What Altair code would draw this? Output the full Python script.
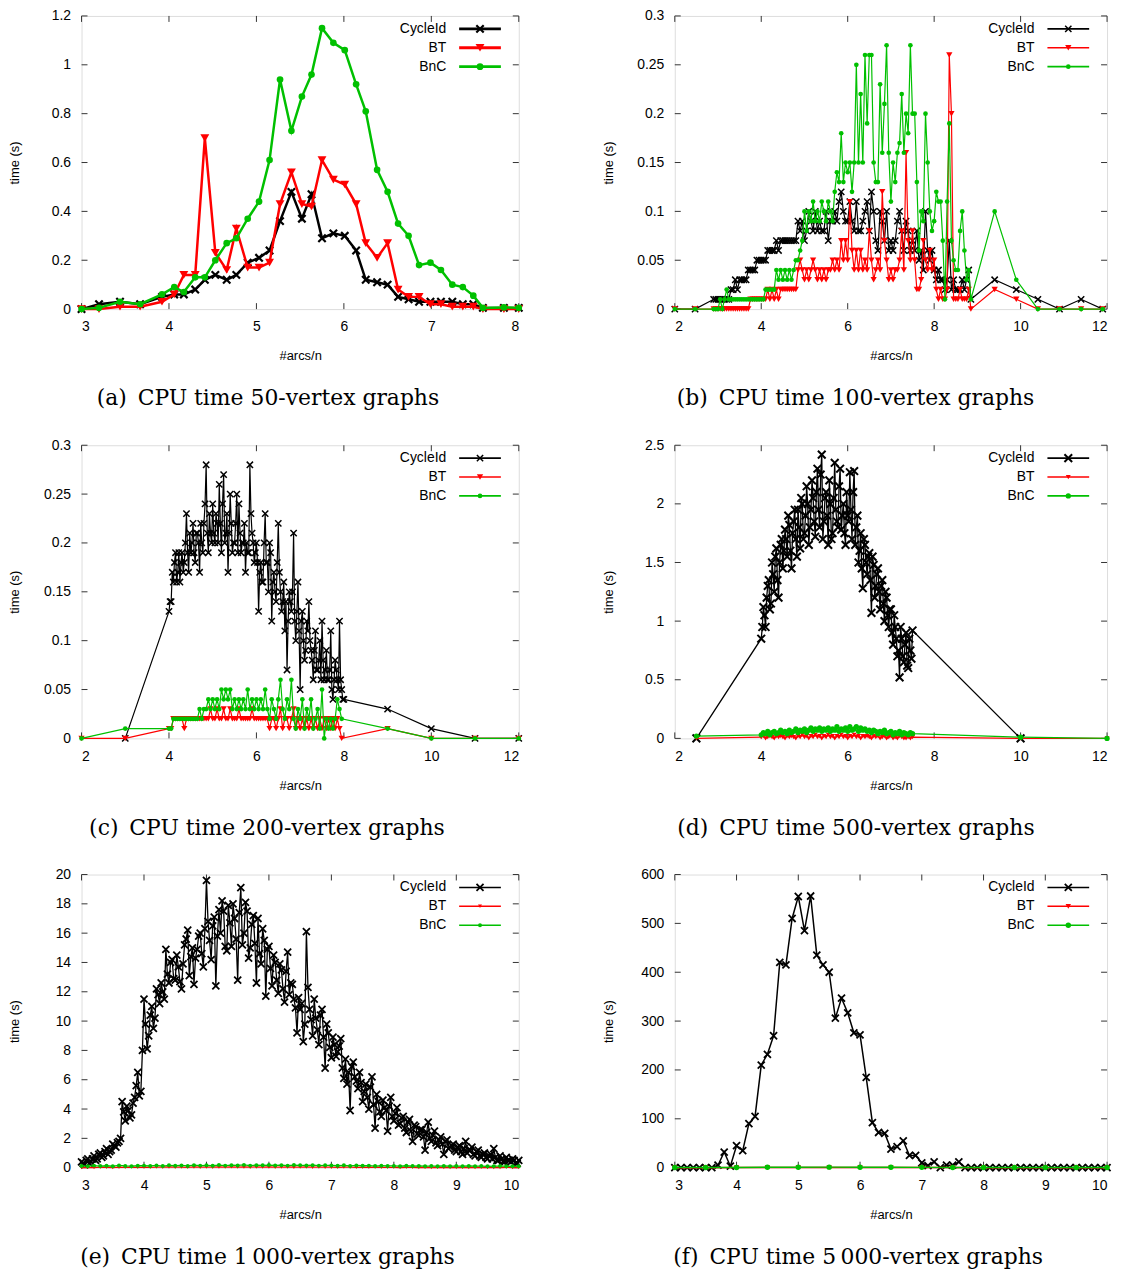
import altair as alt
import pandas as pd

FRAME = "#333333"
BLACK = "#000000"
RED = "#ff0000"
GREEN = "#00c000"
SANS = "Liberation Sans"
SERIF = "DejaVu Serif"
XSHAPE = "M-1,-1L1,1M-1,1L1,-1"
SERIES = ["CycleId", "BT", "BnC"]
COLORS = {"CycleId": BLACK, "BT": RED, "BnC": GREEN}

# ---------------- (a) 50-vertex graphs ----------------
A_X = [3.0, 3.2, 3.44, 3.67, 3.92, 4.06, 4.17, 4.3, 4.41, 4.53, 4.66, 4.77, 4.9, 5.03,
       5.15, 5.27, 5.4, 5.52, 5.63, 5.75, 5.88, 6.01, 6.14, 6.25, 6.38, 6.5, 6.62, 6.74,
       6.86, 6.99, 7.11, 7.24, 7.36, 7.48, 7.59, 7.83, 8.0]
A_CYCLE = [0.0, 0.02, 0.03, 0.02, 0.05, 0.06, 0.06, 0.08, 0.12, 0.14, 0.12, 0.14, 0.19, 0.21,
           0.24, 0.36, 0.48, 0.37, 0.47, 0.29, 0.31, 0.30, 0.24, 0.12, 0.11, 0.10, 0.05, 0.04,
           0.03, 0.03, 0.03, 0.03, 0.02, 0.02, 0.005, 0.005, 0.005]
A_BT = [0.0, 0.0, 0.01, 0.01, 0.03, 0.06, 0.14, 0.14, 0.70, 0.23, 0.16, 0.33, 0.17, 0.17,
        0.19, 0.43, 0.56, 0.43, 0.42, 0.61, 0.53, 0.51, 0.43, 0.27, 0.21, 0.27, 0.08, 0.05,
        0.05, 0.02, 0.02, 0.01, 0.01, 0.01, 0.0, 0.0, 0.0]
A_BNC = [0.0, 0.005, 0.03, 0.02, 0.06, 0.09, 0.07, 0.13, 0.13, 0.2, 0.27, 0.29, 0.37, 0.44,
         0.61, 0.94, 0.73, 0.87, 0.96, 1.15, 1.09, 1.06, 0.92, 0.81, 0.57, 0.48, 0.35, 0.30,
         0.18, 0.19, 0.16, 0.10, 0.09, 0.055, 0.005, 0.007, 0.005]

# ---------------- (b) 100-vertex graphs ----------------
B_HEAD_X = [2.0, 2.47]
B_START, B_STEP = 2.9, 0.05
B_TAIL_X = [9.4, 9.9, 10.4, 10.9, 11.4, 11.9]
B_CYCLE_HEAD = [0.0, 0.0]
B_CYCLE = [
    [0.01, 0.01, 0.01, 0.01, 0.01, 0.01, 0.01, 0.01, 0.02, 0.02],
    [0.03, 0.02, 0.03, 0.03, 0.03, 0.03, 0.04, 0.04, 0.04, 0.04],
    [0.05, 0.05, 0.05, 0.05, 0.05, 0.06, 0.06, 0.06, 0.06, 0.07],
    [0.06, 0.07, 0.07, 0.07, 0.07, 0.07, 0.07, 0.07, 0.07, 0.09],
    [0.08, 0.09, 0.07, 0.08, 0.10, 0.09, 0.08, 0.10, 0.08, 0.09],
    [0.08, 0.08, 0.10, 0.07, 0.09, 0.09, 0.10, 0.09, 0.11, 0.12],
    [0.10, 0.09, 0.09, 0.11, 0.09, 0.08, 0.11, 0.08, 0.08, 0.09],
    [0.10, 0.11, 0.08, 0.12, 0.10, 0.07, 0.06, 0.10, 0.09, 0.07],
    [0.10, 0.06, 0.07, 0.06, 0.07, 0.09, 0.10, 0.08, 0.06, 0.09],
    [0.08, 0.06, 0.07, 0.06, 0.08, 0.05, 0.06, 0.04, 0.10, 0.06],
    [0.05, 0.06, 0.04, 0.03, 0.04, 0.03, 0.03, 0.02, 0.03, 0.07],
    [0.02, 0.03, 0.02, 0.02, 0.02, 0.03, 0.02, 0.03, 0.04, 0.01],
]
B_CYCLE_TAIL = [0.03, 0.02, 0.01, 0.0, 0.01, 0.0]
B_BT_HEAD = [0.0, 0.0]
B_BT = [
    [0.0, 0.0, 0.0, 0.0, 0.0, 0.0, 0.0, 0.0, 0.0, 0.0],
    [0.0, 0.0, 0.0, 0.0, 0.0, 0.0, 0.0, 0.01, 0.01, 0.01],
    [0.01, 0.01, 0.01, 0.01, 0.01, 0.02, 0.01, 0.02, 0.01, 0.02],
    [0.01, 0.02, 0.02, 0.02, 0.02, 0.02, 0.02, 0.02, 0.02, 0.04],
    [0.05, 0.04, 0.03, 0.04, 0.03, 0.04, 0.05, 0.04, 0.03, 0.04],
    [0.03, 0.04, 0.03, 0.04, 0.04, 0.05, 0.04, 0.05, 0.04, 0.07],
    [0.05, 0.07, 0.05, 0.11, 0.06, 0.04, 0.06, 0.04, 0.06, 0.04],
    [0.05, 0.04, 0.08, 0.05, 0.03, 0.04, 0.05, 0.04, 0.12, 0.07],
    [0.05, 0.03, 0.04, 0.03, 0.04, 0.04, 0.05, 0.08, 0.04, 0.16],
    [0.07, 0.05, 0.08, 0.05, 0.02, 0.02, 0.03, 0.07, 0.05, 0.04],
    [0.06, 0.04, 0.05, 0.02, 0.01, 0.02, 0.01, 0.01, 0.02, 0.26],
    [0.20, 0.01, 0.01, 0.01, 0.02, 0.01, 0.01, 0.01, 0.02, 0.0],
]
B_BT_TAIL = [0.02, 0.01, 0.0, 0.0, 0.0, 0.0]
B_BNC_HEAD = [0.0, 0.0]
B_BNC = [
    [0.0, 0.0, 0.0, 0.01, 0.0, 0.01, 0.02, 0.01, 0.01, 0.01],
    [0.01, 0.01, 0.01, 0.01, 0.01, 0.01, 0.01, 0.01, 0.01, 0.01],
    [0.01, 0.01, 0.01, 0.01, 0.02, 0.02, 0.02, 0.02, 0.02, 0.04],
    [0.03, 0.04, 0.03, 0.04, 0.03, 0.04, 0.03, 0.04, 0.05, 0.05],
    [0.06, 0.07, 0.10, 0.08, 0.10, 0.09, 0.11, 0.09, 0.10, 0.09],
    [0.11, 0.10, 0.09, 0.11, 0.10, 0.09, 0.12, 0.14, 0.13, 0.18],
    [0.13, 0.15, 0.14, 0.15, 0.12, 0.15, 0.25, 0.15, 0.22, 0.15],
    [0.26, 0.19, 0.26, 0.26, 0.15, 0.13, 0.13, 0.23, 0.16, 0.21],
    [0.27, 0.16, 0.11, 0.15, 0.13, 0.16, 0.17, 0.22, 0.16, 0.20],
    [0.18, 0.27, 0.20, 0.20, 0.13, 0.06, 0.10, 0.09, 0.20, 0.15],
    [0.10, 0.08, 0.09, 0.12, 0.11, 0.11, 0.07, 0.01, 0.11, 0.19],
    [0.07, 0.05, 0.04, 0.04, 0.08, 0.10, 0.06, 0.03, 0.04, 0.01],
]
B_BNC_TAIL = [0.10, 0.03, 0.0, 0.0, 0.0, 0.0]

# ---------------- (c) 200-vertex graphs ----------------
C_START, C_STEP = 4.0, 0.05
C_CYCLE_HEAD_X = [3.0]
C_CYCLE_HEAD = [0.0]
C_CYCLE = [
    [0.13, 0.14, 0.16, 0.19, 0.17, 0.16, 0.19, 0.18, 0.23, 0.17],
    [0.19, 0.22, 0.18, 0.21, 0.17, 0.20, 0.22, 0.28, 0.19, 0.21],
    [0.24, 0.20, 0.22, 0.26, 0.19, 0.27, 0.21, 0.17, 0.25, 0.19],
    [0.20, 0.25, 0.24, 0.19, 0.20, 0.17, 0.19, 0.28, 0.21, 0.18],
    [0.20, 0.13, 0.18, 0.16, 0.23, 0.18, 0.20, 0.12, 0.17, 0.14],
    [0.22, 0.15, 0.14, 0.11, 0.07, 0.15, 0.13, 0.21, 0.10, 0.16],
    [0.05, 0.13, 0.08, 0.12, 0.14, 0.09, 0.06, 0.11, 0.07, 0.10],
    [0.12, 0.06, 0.09, 0.06, 0.11, 0.04, 0.08, 0.06, 0.12, 0.05],
]
C_CYCLE_MID = [
    [0.14, 0.17, 0.18, 0.16, 0.19, 0.18, 0.17, 0.20, 0.19, 0.21],
    [0.20, 0.19, 0.21, 0.20, 0.22, 0.19, 0.24, 0.21, 0.23, 0.20],
    [0.21, 0.23, 0.20, 0.22, 0.24, 0.20, 0.23, 0.21, 0.22, 0.20],
    [0.22, 0.19, 0.21, 0.20, 0.22, 0.20, 0.19, 0.23, 0.20, 0.19],
    [0.18, 0.17, 0.16, 0.20, 0.18, 0.15, 0.19, 0.16, 0.15, 0.18],
    [0.17, 0.13, 0.16, 0.14, 0.12, 0.14, 0.15, 0.12, 0.13, 0.11],
    [0.12, 0.10, 0.09, 0.11, 0.10, 0.08, 0.09, 0.07, 0.08, 0.06],
    [0.08, 0.07, 0.06, 0.07, 0.05, 0.06, 0.07, 0.05, 0.06, 0.04],
]
C_CYCLE_TAIL_X = [8.0, 9.0, 10.0, 11.0, 12.0]
C_CYCLE_TAIL = [0.04, 0.03, 0.01, 0.0, 0.0]
C_HEAD_X = [2.0, 3.0]
C_TAIL_X = [9.0, 10.0, 11.0, 12.0]
C_BT_HEAD = [0.0, 0.0]
C_BT = [
    [0.01, 0.01, 0.02, 0.02, 0.02, 0.02, 0.02, 0.01, 0.02, 0.02],
    [0.02, 0.02, 0.02, 0.02, 0.02, 0.02, 0.02, 0.02, 0.02, 0.03],
    [0.02, 0.02, 0.03, 0.02, 0.02, 0.03, 0.02, 0.02, 0.03, 0.02],
    [0.02, 0.02, 0.03, 0.02, 0.02, 0.02, 0.02, 0.02, 0.03, 0.02],
    [0.02, 0.02, 0.02, 0.02, 0.02, 0.02, 0.01, 0.02, 0.02, 0.01],
    [0.02, 0.03, 0.01, 0.02, 0.02, 0.01, 0.02, 0.03, 0.01, 0.02],
    [0.01, 0.02, 0.01, 0.02, 0.01, 0.02, 0.01, 0.02, 0.01, 0.02],
    [0.01, 0.02, 0.01, 0.02, 0.01, 0.02, 0.01, 0.02, 0.01, 0.0],
]
C_BT_TAIL = [0.01, 0.0, 0.0, 0.0]
C_BNC_HEAD = [0.0, 0.01]
C_BNC = [
    [0.01, 0.01, 0.02, 0.02, 0.02, 0.02, 0.02, 0.02, 0.02, 0.02],
    [0.02, 0.02, 0.02, 0.02, 0.03, 0.02, 0.03, 0.03, 0.04, 0.03],
    [0.04, 0.03, 0.04, 0.03, 0.05, 0.04, 0.05, 0.04, 0.05, 0.03],
    [0.04, 0.03, 0.04, 0.03, 0.04, 0.03, 0.05, 0.03, 0.04, 0.03],
    [0.04, 0.03, 0.04, 0.03, 0.05, 0.03, 0.02, 0.04, 0.03, 0.02],
    [0.04, 0.06, 0.03, 0.02, 0.04, 0.03, 0.06, 0.02, 0.01, 0.03],
    [0.02, 0.04, 0.01, 0.03, 0.02, 0.04, 0.01, 0.02, 0.03, 0.01],
    [0.05, 0.0, 0.02, 0.01, 0.02, 0.01, 0.02, 0.04, 0.03, 0.02],
]
C_BNC_TAIL = [0.01, 0.0, 0.0, 0.0]

# ---------------- (d) 500-vertex graphs ----------------
D_START, D_STEP = 4.0, 0.05
D_HEAD_X = [2.5]
D_CYCLE_HEAD = [0.0]
D_CYCLE = [
    [0.85, 1.12, 0.95, 1.30, 1.10, 1.50, 1.25, 1.62, 1.20, 1.65],
    [1.45, 1.78, 1.55, 1.82, 1.45, 1.85, 1.70, 1.95, 1.62, 2.00],
    [1.75, 2.15, 1.65, 1.95, 2.05, 1.72, 2.30, 1.80, 2.42, 1.85],
    [2.10, 1.65, 2.00, 1.75, 2.35, 1.85, 2.15, 1.78, 2.00, 1.65],
    [1.90, 2.27, 1.70, 2.28, 1.80, 1.50, 1.75, 1.28, 1.65, 1.40],
    [1.58, 1.07, 1.48, 1.30, 1.45, 1.10, 1.35, 1.00, 1.20, 0.95],
    [1.10, 0.80, 0.95, 0.70, 0.52, 0.85, 0.65, 0.90, 0.60, 0.75],
    [0.92],
]
D_CYCLE_MID = [
    [0.95, 1.05, 1.20, 1.35, 1.15, 1.40, 1.55, 1.35, 1.50, 1.70],
    [1.60, 1.70, 1.90, 1.60, 1.75, 1.95, 1.55, 1.80, 2.05, 1.70],
    [1.90, 2.00, 1.80, 2.20, 1.85, 2.10, 1.95, 2.25, 1.70, 2.05],
    [1.90, 2.20, 1.70, 2.05, 1.95, 1.80, 2.30, 1.90, 1.75, 2.10],
    [1.85, 1.95, 2.10, 1.65, 1.90, 1.60, 1.45, 1.70, 1.50, 1.55],
    [1.35, 1.55, 1.20, 1.40, 1.25, 1.30, 1.15, 1.25, 1.05, 1.10],
    [0.90, 1.05, 0.85, 0.75, 0.95, 0.70, 0.80, 0.62, 0.85, 0.68],
]
D_CYCLE_TAIL_X = [10.0]
D_CYCLE_TAIL = [0.0]
D_TAIL_X = [10.0, 12.0]
D_BT_HEAD = [0.0]
D_BT = [
    [0.01, 0.02, 0.0, 0.01, 0.02, 0.01, 0.0, 0.02, 0.01, 0.02],
    [0.01, 0.0, 0.02, 0.01, 0.02, 0.01, 0.0, 0.02, 0.01, 0.03],
    [0.01, 0.02, 0.0, 0.02, 0.01, 0.03, 0.01, 0.02, 0.0, 0.02],
    [0.01, 0.03, 0.01, 0.02, 0.0, 0.02, 0.01, 0.03, 0.01, 0.02],
    [0.0, 0.02, 0.01, 0.03, 0.01, 0.02, 0.0, 0.02, 0.01, 0.02],
    [0.01, 0.0, 0.02, 0.01, 0.02, 0.0, 0.01, 0.02, 0.0, 0.01],
    [0.02, 0.0, 0.01, 0.0, 0.02, 0.01, 0.0, 0.0, 0.01, 0.0],
    [0.01],
]
D_BT_TAIL = [0.0, 0.0]
D_BNC_HEAD = [0.02]
D_BNC = [
    [0.03, 0.05, 0.04, 0.06, 0.03, 0.05, 0.06, 0.04, 0.05, 0.07],
    [0.05, 0.06, 0.04, 0.07, 0.05, 0.06, 0.08, 0.05, 0.07, 0.06],
    [0.08, 0.05, 0.07, 0.09, 0.06, 0.08, 0.07, 0.09, 0.06, 0.08],
    [0.07, 0.09, 0.06, 0.08, 0.07, 0.10, 0.06, 0.08, 0.07, 0.09],
    [0.06, 0.10, 0.07, 0.08, 0.10, 0.06, 0.09, 0.07, 0.08, 0.06],
    [0.07, 0.05, 0.07, 0.06, 0.04, 0.06, 0.05, 0.07, 0.04, 0.05],
    [0.06, 0.03, 0.05, 0.04, 0.06, 0.03, 0.05, 0.04, 0.03, 0.05],
    [0.04],
]
D_BNC_TAIL = [0.01, 0.0]

# ---------------- (e) 1000-vertex graphs ----------------
E_START, E_STEP = 3.0, 0.05
E_CYCLE = [
    [0.4, 0.2, 0.6, 0.4, 0.8, 0.6, 1.0, 0.8, 1.3, 1.1],
    [1.6, 1.4, 1.8, 4.5, 3.2, 3.9, 3.6, 4.8, 6.5, 5.2],
    [11.5, 8.1, 10.4, 9.5, 12.2, 11.2, 12.0, 14.9, 12.6, 14.2],
    [12.8, 13.7, 12.2, 15.2, 16.2, 14.4, 12.5, 14.9, 16.0, 13.7],
    [19.6, 15.5, 16.5, 12.4, 17.6, 18.2, 15.1, 17.9, 15.1, 17.0],
    [12.8, 19.1, 16.0, 17.5, 15.0, 17.2, 12.6, 14.6, 16.3, 11.7],
    [15.1, 12.4, 14.0, 11.9, 13.5, 11.3, 14.7, 12.6, 11.5, 9.2],
    [10.8, 8.6, 16.1, 10.8, 9.0, 10.2, 8.4, 10.8, 6.8, 9.2],
    [7.5, 8.4, 7.9, 8.8, 6.1, 5.7, 3.9, 7.2, 5.9, 6.5],
    [4.5, 5.7, 4.0, 6.2, 2.7, 4.5, 3.5, 4.1, 2.5, 4.8],
    [3.2, 4.1, 3.0, 3.5, 2.4, 3.3, 1.8, 2.8, 2.2, 2.6],
    [1.2, 3.1, 1.8, 2.5, 1.5, 2.1, 0.9, 1.9, 1.4, 1.6],
    [1.1, 1.5, 0.9, 1.8, 1.2, 1.4, 0.8, 1.2, 0.7, 1.0],
    [0.6, 0.9, 1.3, 0.5, 0.8, 0.4, 0.7, 0.5, 0.6, 0.3],
    [0.5],
]
E_CYCLE_MID = [
    [0.3, 0.5, 0.3, 0.6, 0.5, 0.9, 0.7, 1.1, 0.9, 1.2],
    [1.5, 1.7, 2.0, 3.8, 4.2, 3.4, 4.4, 5.6, 4.9, 8.0],
    [9.8, 9.0, 11.0, 10.2, 11.8, 12.6, 11.5, 13.2, 14.0, 12.9],
    [14.5, 12.7, 13.9, 15.6, 13.1, 15.0, 14.3, 15.8, 14.6, 16.3],
    [16.8, 14.2, 17.1, 15.8, 16.0, 17.5, 14.8, 16.7, 18.0, 15.6],
    [17.4, 15.2, 18.1, 14.3, 16.6, 15.3, 17.0, 13.9, 15.5, 14.9],
    [13.6, 14.5, 12.8, 13.9, 12.2, 13.4, 11.8, 12.5, 10.9, 11.6],
    [11.2, 9.8, 12.3, 10.1, 11.5, 9.4, 10.4, 8.9, 9.8, 8.2],
    [8.9, 7.6, 8.3, 6.8, 7.4, 6.5, 6.9, 6.2, 5.4, 5.8],
    [5.2, 4.8, 5.5, 4.3, 5.0, 3.8, 4.6, 3.9, 4.2, 3.5],
    [3.7, 2.9, 3.4, 2.7, 3.1, 2.5, 2.9, 2.3, 2.6, 2.1],
    [2.4, 2.0, 2.2, 1.7, 1.9, 1.6, 1.8, 1.3, 1.5, 1.2],
    [1.4, 1.1, 1.3, 1.0, 1.2, 0.9, 1.1, 0.8, 0.9, 0.7],
    [0.8, 0.6, 0.7, 0.5, 0.6, 0.4, 0.5, 0.4, 0.5, 0.3],
]
E_LOW_START, E_LOW_STEP = 3.0, 0.1
E_BT = [
    [0.01, 0.02, 0.01, 0.03, 0.02, 0.01, 0.03, 0.02, 0.04, 0.02],
    [0.03, 0.02, 0.04, 0.03, 0.05, 0.03, 0.04, 0.02, 0.05, 0.03],
    [0.04, 0.03, 0.05, 0.04, 0.06, 0.04, 0.05, 0.03, 0.05, 0.04],
    [0.05, 0.03, 0.04, 0.05, 0.03, 0.04, 0.05, 0.03, 0.04, 0.03],
    [0.03, 0.02, 0.04, 0.03, 0.02, 0.03, 0.02, 0.03, 0.02, 0.02],
    [0.02, 0.01, 0.02, 0.02, 0.01, 0.02, 0.01, 0.02, 0.01, 0.01],
    [0.01, 0.02, 0.01, 0.01, 0.02, 0.01, 0.01, 0.01, 0.02, 0.01],
    [0.01],
]
E_BNC = [
    [0.12, 0.10, 0.14, 0.11, 0.13, 0.10, 0.15, 0.12, 0.10, 0.13],
    [0.14, 0.12, 0.15, 0.11, 0.16, 0.13, 0.15, 0.12, 0.17, 0.14],
    [0.16, 0.13, 0.18, 0.14, 0.17, 0.15, 0.19, 0.14, 0.17, 0.16],
    [0.18, 0.15, 0.17, 0.14, 0.18, 0.16, 0.15, 0.17, 0.14, 0.16],
    [0.15, 0.13, 0.16, 0.12, 0.15, 0.13, 0.14, 0.11, 0.13, 0.12],
    [0.12, 0.10, 0.13, 0.11, 0.12, 0.10, 0.11, 0.10, 0.12, 0.10],
    [0.11, 0.10, 0.12, 0.10, 0.11, 0.09, 0.10, 0.11, 0.10, 0.09],
    [0.10],
]

# ---------------- (f) 5000-vertex graphs ----------------
F_START, F_STEP = 3.0, 0.1
F_CYCLE = [
    [0, 0, 0, 0, 0, 0, 0, 5, 32, 3],
    [45, 35, 90, 105, 210, 232, 270, 420, 415, 510],
    [555, 485, 556, 435, 415, 400, 306, 347, 317, 276],
    [272, 185, 92, 72, 70, 38, 43, 55, 25, 25],
    [10, 4, 12, 0, 5, 5, 12, 0, 0, 0],
    [0, 0, 0, 0, 0, 0, 0, 0, 0, 0],
    [0, 0, 0, 0, 0, 0, 0, 0, 0, 0],
    [0],
]
F_LOW_X = [3.0, 3.5, 4.0, 4.5, 5.0, 5.5, 6.0, 6.5, 7.0, 7.5, 8.0, 8.5, 9.0, 9.5, 10.0]
F_BT = [0.0, 0.0, 0.1, 0.2, 0.3, 0.3, 0.2, 0.2, 0.1, 0.1, 0.0, 0.0, 0.0, 0.0, 0.0]
F_BNC = [0.3, 0.3, 0.5, 0.8, 1.0, 1.1, 0.9, 0.8, 0.6, 0.5, 0.4, 0.4, 0.3, 0.3, 0.3]

CAPTIONS = [
    "(a)\u2002CPU time 50-vertex graphs",
    "(b)\u2002CPU time 100-vertex graphs",
    "(c)\u2002CPU time 200-vertex graphs",
    "(d)\u2002CPU time 500-vertex graphs",
    "(e)\u2002CPU time 1\u2009000-vertex graphs",
    "(f)\u2002CPU time 5\u2009000-vertex graphs",
]


def flat(rows):
    return [v for r in rows for v in r]


def grid(start, step, n):
    return [round(start + step * i, 4) for i in range(n)]


def composed(head_x, head_y, start, step, rows, tail_x, tail_y, mid=None):
    ys = flat(rows)
    xs = grid(start, step, len(ys))
    if mid is not None:
        ym = flat(mid)
        xs = xs + grid(start + step / 2, step, len(ym))
        ys = ys + ym
    return head_x + xs + tail_x, head_y + ys + tail_y


def frame_xy(xs, ys):
    n = min(len(xs), len(ys))
    return pd.DataFrame({"x": xs[:n], "y": ys[:n]}).sort_values("x")


ONE = pd.DataFrame({"k": [0]})
E_AX = 60
LW_W = 440
RW_W = 435
PH = 295


def marker(name, st):
    if name == "CycleId":
        return dict(shape=XSHAPE, filled=False, stroke=BLACK, strokeWidth=st["xsw"],
                    size=st["xsize"], opacity=1)
    if name == "BT":
        return dict(shape="triangle-down", filled=True, color=RED, size=st["tri"],
                    opacity=1, strokeWidth=0)
    return dict(shape="circle", filled=True, color=GREEN, size=st["circ"],
                opacity=1, strokeWidth=0)


def panel(data, xdom, ydom, xticks, yticks, W, H, caption, st):
    xs = alt.Scale(domain=xdom, nice=False, zero=False)
    ys = alt.Scale(domain=ydom, nice=False, zero=False)
    xaxis = alt.Axis(values=xticks, format="~f", title="#arcs/n", ticks=False, tickSize=0,
                     domain=False, grid=False, labelPadding=11, labelFont=SANS,
                     labelFontSize=14, labelColor=BLACK, titleFont=SANS, titleFontSize=13,
                     titleFontWeight="normal", titleColor=BLACK, titlePadding=16,
                     minExtent=25, maxExtent=25, labelOverlap=False)
    yaxis = alt.Axis(values=yticks, format="~f", title="time (s)", ticks=False, tickSize=0,
                     domain=False, grid=False, labelPadding=11, labelFont=SANS,
                     labelFontSize=14, labelColor=BLACK, titleFont=SANS, titleFontSize=13,
                     titleFontWeight="normal", titleColor=BLACK, titlePadding=0,
                     minExtent=E_AX, maxExtent=E_AX, labelOverlap=False)
    X = lambda f: alt.X(f, scale=xs, axis=xaxis)
    Y = lambda f: alt.Y(f, scale=ys, axis=yaxis)
    layers = []
    # inner tick marks on all four sides (gnuplot style)
    ydf = pd.DataFrame({"v": yticks})
    xdf = pd.DataFrame({"v": xticks})
    tl = 6
    layers.append(alt.Chart(ydf).mark_rule(color=FRAME, strokeWidth=1).encode(
        y=Y("v:Q"), x=alt.value(0), x2=alt.value(tl)))
    layers.append(alt.Chart(ydf).mark_rule(color=FRAME, strokeWidth=1).encode(
        y=Y("v:Q"), x=alt.value(W - tl), x2=alt.value(W)))
    layers.append(alt.Chart(xdf).mark_rule(color=FRAME, strokeWidth=1).encode(
        x=X("v:Q"), y=alt.value(H - tl), y2=alt.value(H)))
    layers.append(alt.Chart(xdf).mark_rule(color=FRAME, strokeWidth=1).encode(
        x=X("v:Q"), y=alt.value(0), y2=alt.value(tl)))
    for name in SERIES:
        df = frame_xy(*data[name])
        base = alt.Chart(df)
        layers.append(base.mark_line(color=COLORS[name], strokeWidth=st["lw"]).encode(
            x=X("x:Q"), y=Y("y:Q")))
        layers.append(base.mark_point(**marker(name, st)).encode(x=X("x:Q"), y=Y("y:Q")))
    # legend (label left, sample right)
    for i, name in enumerate(SERIES):
        ly = [13, 32, 51][i]
        layers.append(alt.Chart(ONE).mark_text(
            text=name, align="right", baseline="middle", font=SANS, fontSize=14,
            color=BLACK).encode(x=alt.value(W - 73), y=alt.value(ly)))
        layers.append(alt.Chart(ONE).mark_rule(
            color=COLORS[name], strokeWidth=st["leglw"]).encode(
            x=alt.value(W - 60), x2=alt.value(W - 18), y=alt.value(ly)))
        layers.append(alt.Chart(ONE).mark_point(**marker(name, st)).encode(
            x=alt.value(W - 39), y=alt.value(ly)))
    return alt.layer(*layers).properties(
        width=W, height=H,
        title=alt.TitleParams(text=caption, orient="bottom", anchor="middle", frame="bounds",
                              font=SERIF, fontSize=22, fontWeight="normal", color=BLACK,
                              offset=26, baseline="top"),
    )


thin = dict(lw=1.2, xsize=40, xsw=1.5, tri=40, circ=22, leglw=1.6)

pa = panel({"CycleId": (A_X, A_CYCLE), "BT": (A_X, A_BT), "BnC": (A_X, A_BNC)},
           [3, 8], [0, 1.2], [3, 4, 5, 6, 7, 8], [0, 0.2, 0.4, 0.6, 0.8, 1, 1.2],
           LW_W, PH, CAPTIONS[0],
           dict(lw=2.5, xsize=55, xsw=2.2, tri=80, circ=45, leglw=3))

pb = panel({
    "CycleId": composed(B_HEAD_X, B_CYCLE_HEAD, B_START, B_STEP, B_CYCLE, B_TAIL_X, B_CYCLE_TAIL),
    "BT": composed(B_HEAD_X, B_BT_HEAD, B_START, B_STEP, B_BT, B_TAIL_X, B_BT_TAIL),
    "BnC": composed(B_HEAD_X, B_BNC_HEAD, B_START, B_STEP, B_BNC, B_TAIL_X, B_BNC_TAIL),
}, [2, 12], [0, 0.3], [2, 4, 6, 8, 10, 12], [0, 0.05, 0.1, 0.15, 0.2, 0.25, 0.3],
    RW_W, PH, CAPTIONS[1], thin)

pc = panel({
    "CycleId": composed(C_CYCLE_HEAD_X, C_CYCLE_HEAD, C_START, C_STEP, C_CYCLE,
                        C_CYCLE_TAIL_X, C_CYCLE_TAIL, C_CYCLE_MID),
    "BT": composed(C_HEAD_X, C_BT_HEAD, C_START, C_STEP, C_BT, C_TAIL_X, C_BT_TAIL),
    "BnC": composed(C_HEAD_X, C_BNC_HEAD, C_START, C_STEP, C_BNC, C_TAIL_X, C_BNC_TAIL),
}, [2, 12], [0, 0.3], [2, 4, 6, 8, 10, 12], [0, 0.05, 0.1, 0.15, 0.2, 0.25, 0.3],
    LW_W, PH, CAPTIONS[2], thin)

pd_ = panel({
    "CycleId": composed(D_HEAD_X, D_CYCLE_HEAD, D_START, D_STEP, D_CYCLE,
                        D_CYCLE_TAIL_X, D_CYCLE_TAIL, D_CYCLE_MID),
    "BT": composed(D_HEAD_X, D_BT_HEAD, D_START, D_STEP, D_BT, D_TAIL_X, D_BT_TAIL),
    "BnC": composed(D_HEAD_X, D_BNC_HEAD, D_START, D_STEP, D_BNC, D_TAIL_X, D_BNC_TAIL),
}, [2, 12], [0, 2.5], [2, 4, 6, 8, 10, 12], [0, 0.5, 1, 1.5, 2, 2.5],
    RW_W, PH, CAPTIONS[3], dict(lw=1.3, xsize=60, xsw=2.0, tri=25, circ=28, leglw=1.6))

pe = panel({
    "CycleId": composed([], [], E_START, E_STEP, E_CYCLE, [], [], E_CYCLE_MID),
    "BT": composed([], [], E_LOW_START, E_LOW_STEP, E_BT, [], []),
    "BnC": composed([], [], E_LOW_START, E_LOW_STEP, E_BNC, [], []),
}, [3, 10], [0, 20], [3, 4, 5, 6, 7, 8, 9, 10], [0, 2, 4, 6, 8, 10, 12, 14, 16, 18, 20],
    LW_W, PH, CAPTIONS[4], dict(lw=1.3, xsize=50, xsw=1.8, tri=16, circ=16, leglw=1.6))

pf = panel({
    "CycleId": composed([], [], F_START, F_STEP, F_CYCLE, [], []),
    "BT": (F_LOW_X, F_BT),
    "BnC": (F_LOW_X, F_BNC),
}, [3, 10], [0, 600], [3, 4, 5, 6, 7, 8, 9, 10], [0, 100, 200, 300, 400, 500, 600],
    RW_W, PH, CAPTIONS[5], dict(lw=1.5, xsize=50, xsw=1.8, tri=30, circ=30, leglw=1.6))

chart = alt.concat(
    pa, pb, pc, pd_, pe, pf, columns=2, spacing={"row": 27, "column": 74},
).properties(
    padding={"top": -4, "left": 0, "right": 0, "bottom": 0},
).configure_view(stroke=FRAME, strokeWidth=1).configure(background="white")

chart.save("out.html", embed_options={"renderer": "svg", "actions": False})
